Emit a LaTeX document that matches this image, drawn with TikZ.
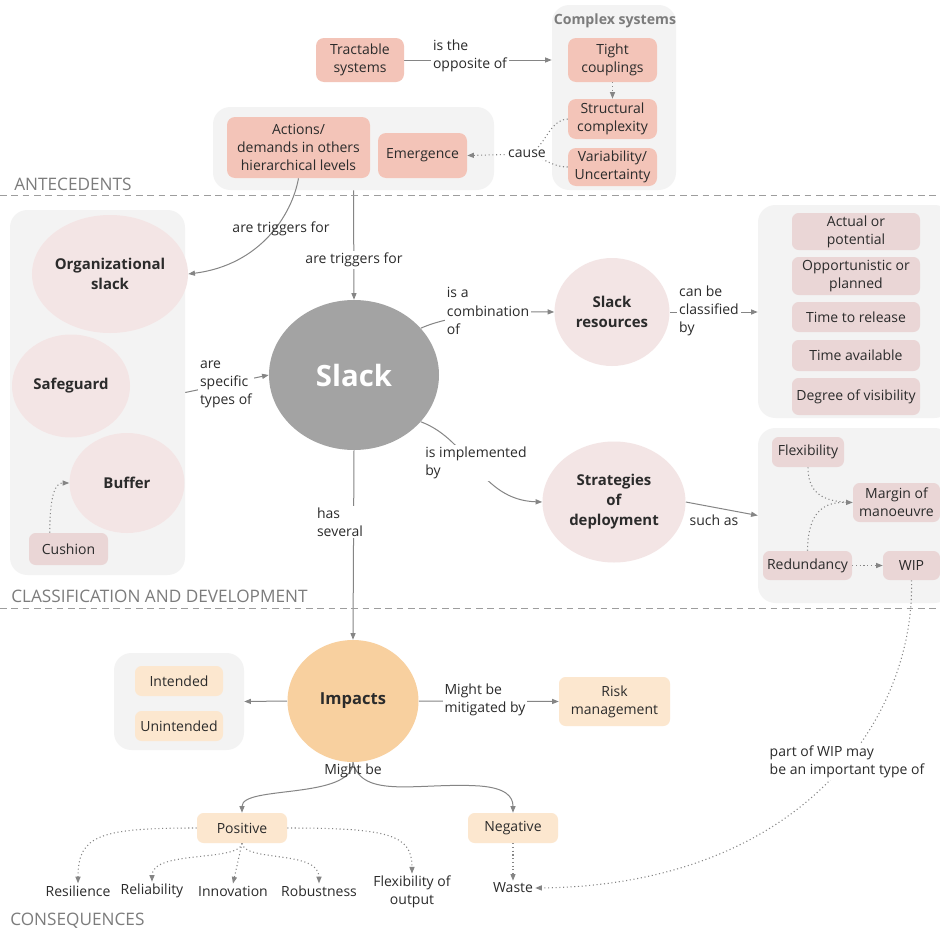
\documentclass[tikz,border=0pt]{standalone}
\usepackage{fontspec}
\setmainfont{Open Sans}
\usetikzlibrary{arrows.meta,shapes.geometric,calc}
\definecolor{salmonc}{HTML}{F3C4B8}
\definecolor{pinkc}{HTML}{EAD6D6}
\definecolor{bubc}{HTML}{F3E5E5}
\definecolor{grpc}{HTML}{F3F3F3}
\definecolor{slackc}{HTML}{A3A3A3}
\definecolor{impc}{HTML}{F8D09F}
\definecolor{peachc}{HTML}{FCE7CF}
\definecolor{linec}{HTML}{858585}
\definecolor{secc}{HTML}{7C7C7C}
\definecolor{txtc}{HTML}{2B2B2B}
\pgfdeclarelayer{grp}
\pgfdeclarelayer{lines}
\pgfsetlayers{grp,lines,main}
\newcommand\txtfont{\fontsize{10.5}{13.6}\selectfont}
\newcommand\bubfont{\fontsize{11.2}{15}\selectfont\bfseries}
% rectangle node given by its corners (x1,y1) and (x2,y2)
\newcommand\boxnode[7]{\node[#1, minimum width={(#5-#3)*0.75pt}, minimum height={(#6-#4)*0.75pt}] (#2) at ({(#3+#5)/2},{(#4+#6)/2}) {#7};}
% ellipse node given by centre and size
\newcommand\bubble[7]{\node[#1, minimum width={#5*0.75pt}, minimum height={#6*0.75pt}] (#2) at (#3,#4) {#7};}
\begin{document}
\begin{tikzpicture}[x=0.75pt,y=-0.75pt,font=\txtfont,text=txtc,
 conn/.style={draw=linec,line width=0.75pt},
 dotln/.style={draw=linec,line width=0.8pt,dotted},
 arr/.style={-{Triangle[length=5pt,width=3.8pt]}},
 salm/.style={fill=salmonc,rounded corners=6pt,align=center,inner sep=0pt},
 pbox/.style={fill=pinkc,rounded corners=5pt,align=center,inner sep=0pt},
 obox/.style={fill=peachc,rounded corners=5pt,align=center,inner sep=0pt},
 grpbox/.style={fill=grpc,rounded corners=13pt,inner sep=0pt},
 bub/.style={ellipse,fill=bubc,inner sep=0pt,align=center,font=\bubfont},
 lab/.style={align=left,inner sep=1.5pt},
 wlab/.style={lab,fill=white},
 sect/.style={anchor=west,text=secc,font=\fontsize{12.9}{15}\selectfont,inner sep=0pt},
 dline/.style={draw=linec!80,line width=0.75pt,dash pattern=on 5pt off 3.5pt}]
\useasboundingbox (0,0) rectangle (940,932);

% ---------- page and group backgrounds ----------
\begin{pgfonlayer}{grp}
\fill[white] (0,0) rectangle (940,932);
\boxnode{grpbox}{cplx}{552}{5}{676}{190}{}
\boxnode{grpbox}{antgrp}{213}{107}{494}{190}{}
\boxnode{grpbox}{sidegrp}{10}{210}{185}{575}{}
\boxnode{grpbox}{clsgrp}{758}{205}{952}{418}{}
\boxnode{grpbox}{strgrp}{758}{428}{952}{603}{}
\boxnode{grpbox}{intgrp}{114}{653}{244}{750}{}
\end{pgfonlayer}

% ---------- section separators ----------
\draw[dline] (0,195) -- (940,195);
\draw[dline] (0,608) -- (940,608);
\node[sect] (secA) at (14,184) {ANTECEDENTS};
\node[sect] (secB) at (11,596) {CLASSIFICATION AND DEVELOPMENT};
\node[sect] (secC) at (10,921) {CONSEQUENCES};

% ---------- antecedents ----------
\node[font=\fontsize{10.6}{12}\selectfont\bfseries,text=secc] (cstitle) at (615,21) {Complex systems};
\boxnode{salm}{trac}{316}{38}{404}{82}{Tractable\\systems}
\boxnode{salm}{tight}{568}{38}{657}{82}{Tight\\couplings}
\boxnode{salm}{struct}{568}{99}{657}{139}{Structural\\complexity}
\boxnode{salm}{var}{568}{148}{657}{186}{Variability/\\Uncertainty}
\boxnode{salm}{act}{227}{117}{370}{178}{Actions/\\demands in others\\hierarchical levels}
\boxnode{salm}{emer}{378}{133}{467}{178}{Emergence}
\node[wlab] (lopp) at (470,56) {is the\\opposite of};
\node[wlab] (cause) at (527,154) {cause};

% ---------- classification and development ----------
\bubble{bub}{org}{110}{274}{144}{118}{Organizational\\slack}
\bubble{bub}{safe}{71}{386}{118}{103}{Safeguard}
\bubble{bub}{buffer}{127}{483}{115}{100}{Buffer}
\boxnode{pbox}{cush}{29}{533}{108}{565}{Cushion}
\bubble{ellipse,fill=slackc,inner sep=0pt,text=white,font=\fontsize{22}{26}\selectfont\bfseries}{slack}{354}{375}{170}{150}{Slack}
\bubble{bub}{res}{612}{312}{115}{108}{Slack\\resources}
\bubble{bub}{strat}{614}{502}{143}{121}{Strategies\\of\\deployment}
\boxnode{pbox}{actual}{792}{213}{920}{250}{Actual or\\potential}
\boxnode{pbox}{opport}{792}{257}{920}{295}{Opportunistic or\\planned}
\boxnode{pbox}{ttr}{792}{302}{920}{332}{Time to release}
\boxnode{pbox}{tav}{792}{340}{920}{371}{Time available}
\boxnode{pbox}{deg}{792}{378}{920}{415}{Degree of visibility}
\boxnode{pbox}{flex}{772}{437}{844}{467}{Flexibility}
\boxnode{pbox}{margin}{853}{483}{940}{522}{Margin of\\manoeuvre}
\boxnode{pbox}{redund}{763}{551}{852}{580}{Redundancy}
\boxnode{pbox}{wip}{883}{551}{940}{580}{WIP}
\node[lab] (trig1) at (281,229) {are triggers for};
\node[wlab] (trig2) at (354,260) {are triggers for};
\node[wlab] (spec) at (226,384) {are\\specific\\types of};
\node[wlab] (comb) at (488,311) {is a\\combination\\of};
\node[wlab] (clsby) at (709,311) {can be\\classified\\by};
\node[wlab] (impl) at (476,463) {is implemented\\by};
\node[wlab] (such) at (714,520) {such as};
\node[wlab] (has) at (340,522) {has\\several};

% ---------- consequences ----------
\bubble{ellipse,fill=impc,inner sep=0pt,font=\fontsize{12.4}{15}\selectfont\bfseries}{impacts}{353}{701}{131}{122}{Impacts}
\boxnode{obox}{intd}{135}{666}{223}{696}{Intended}
\boxnode{obox}{unintd}{135}{711}{223}{741}{Unintended}
\boxnode{obox}{risk}{559}{677}{670}{726}{Risk\\management}
\boxnode{obox}{pos}{197}{813}{287}{843}{Positive}
\boxnode{obox}{neg}{468}{813}{558}{843}{Negative}
\node[wlab] (mit) at (485,700) {Might be\\mitigated by};
\node[lab] (mb) at (353,771) {Might be};
\node[wlab] (wiplab) at (847,762) {part of WIP may\\be an important type of};
\node[lab] (resil) at (78,891) {Resilience};
\node[lab] (reli) at (152,891) {Reliability};
\node[lab] (innov) at (233,891) {Innovation};
\node[lab] (robust) at (319,891) {Robustness};
\node[align=center,inner sep=1.5pt] (flexo) at (412,892) {Flexibility of\\output};
\node[lab] (waste) at (513,888) {Waste};

% ---------- connectors ----------
\begin{pgfonlayer}{lines}
\draw[conn,arr] (trac.east) -- (cplx.west |- trac.east);
\draw[dotln,arr] (tight.south) -- (struct.north);
\draw[dotln] (struct.west) .. controls (548,120) and (545,150) .. (cause.center);
\draw[dotln] (var.west) .. controls (552,167) and (545,158) .. (cause.center);
\draw[dotln,arr] (cause.center) -- (emer.east);
\draw[conn,arr] (act.south) .. controls (292,215) and (260,265) .. (org.east);
\draw[conn,arr] (antgrp.south) -- (slack.north);
\draw[conn,arr] (sidegrp.east) -- (slack.west);
\draw[dotln,arr] ($(cush.north west)+(21,0)$) .. controls (50,495) and (55,483) .. (buffer.west);
\draw[conn,arr] (slack.35) .. controls (450,315) and (500,311) .. (res.west);
\draw[conn,arr] (res.east) -- (clsgrp.west |- res.east);
\draw[conn,arr] (slack.-35) .. controls (470,440) and (480,500) .. (strat.west);
\draw[conn,arr] (strat.east) -- (strgrp.west);
\draw[dotln] (flex.south) .. controls (808,495) and (825,502) .. (margin.west);
\draw[dotln,arr] (redund.north) .. controls (808,510) and (825,502) .. (margin.west);
\draw[dotln,arr] (redund.east) -- (wip.west);
\draw[conn,arr] (slack.south) -- (impacts.north);
\draw[conn,arr] (impacts.west) -- (intgrp.east);
\draw[conn,arr] (impacts.east) -- (risk.west);
\draw[conn,arr] (impacts.south) .. controls (352,800) and (242,785) .. (pos.north);
\draw[conn,arr] (impacts.south) .. controls (362,800) and (420,782) .. (480,786)
  .. controls (505,788) and (513,796) .. (neg.north);
\draw[dotln,arr] (pos.west) .. controls (100,828) and (78,835) .. (resil.north);
\draw[dotln,arr] (pos.south) .. controls (240,862) and (152,850) .. (reli.north);
\draw[dotln,arr] (pos.south) -- (innov.north);
\draw[dotln,arr] (pos.south) .. controls (244,862) and (319,850) .. (robust.north);
\draw[dotln,arr] (pos.east) .. controls (390,828) and (412,835) .. (flexo.north);
\draw[dotln,arr] (neg.south) -- (waste.north);
\draw[dotln,arr] (wip.south) .. controls (915,720) and (800,885) .. (waste.east);
\end{pgfonlayer}
\end{tikzpicture}
\end{document}
